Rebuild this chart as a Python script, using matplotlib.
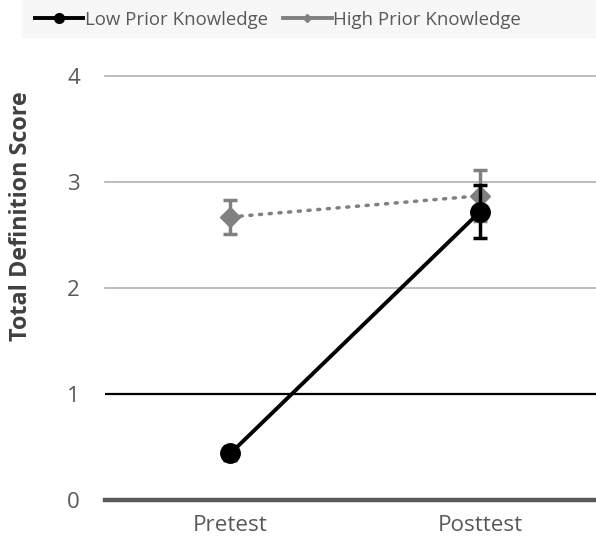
import matplotlib.pyplot as plt
from matplotlib.patches import Rectangle
from matplotlib.lines import Line2D

plt.rcParams['font.family'] = ['Open Sans', 'DejaVu Sans']

tests = ['Pretest', 'Posttest']
low_mean = [0.44, 2.72]
low_err = [0.06, 0.25]
high_mean = [2.67, 2.87]
high_err = [0.16, 0.24]
yticks = [0, 1, 2, 3, 4]

fig = plt.figure(figsize=(5.96, 5.44), dpi=100)
ax = fig.add_axes([105 / 596, 44 / 544, 491 / 596, 424 / 544])

x = [0, 1]
# grid lines
for v in yticks:
    if v == 0:
        ax.axhline(v, color='#595959', lw=3.2, zorder=1, clip_on=False)
    elif v == 1:
        ax.axhline(v, color='black', lw=1.6, zorder=1)
    else:
        ax.axhline(v, color='#b0b0b0', lw=1.2, zorder=1, clip_on=False)

ax.errorbar(x, high_mean, yerr=high_err, color='#808080', lw=2.5, ls=(0, (0.6, 2.2)),
            dash_capstyle='round', marker='D', ms=10, capsize=5, capthick=2.5,
            elinewidth=2.5, zorder=3)
ax.errorbar(x, low_mean, yerr=low_err, color='black', lw=2.8, marker='o', ms=14,
            capsize=5, capthick=2.5, elinewidth=2.5, zorder=4)

ax.set_xlim(-0.503, 1.465)
ax.set_ylim(0, 4)
ax.set_xticks(x)
ax.set_xticklabels(tests, fontsize=16.2, color='#595959')
ax.set_yticks(yticks)
ax.set_yticklabels([str(v) for v in yticks], fontsize=16, color='#595959')
ax.tick_params(length=0)
ax.tick_params(axis='x', pad=11)
ax.tick_params(axis='y', pad=18)
for s in ax.spines.values():
    s.set_visible(False)
fig.text(21 / 596, 1 - 216 / 544, 'Total Definition Score', rotation=90, fontsize=16.8,
         fontweight='bold', color='#404040', ha='center', va='center')

# legend band
fig.patches.append(Rectangle((22 / 596, 1 - 37 / 544), 1, 37 / 544, transform=fig.transFigure,
                             color='#f7f7f7', zorder=0))
handles = [Line2D([], [], color='black', lw=2.8, marker='o', ms=7),
           Line2D([], [], color='#808080', lw=2.8, marker='D', ms=4)]
fig.legend(handles, ['Low Prior Knowledge', 'High Prior Knowledge'], loc='center left',
           bbox_to_anchor=(35 / 596, 1 - 20 / 544), ncol=2, frameon=False, fontsize=13.4,
           handlelength=2.6, handletextpad=0.1, columnspacing=0.8, labelcolor='#595959',
           borderpad=0, borderaxespad=0)

fig.savefig('out.png', dpi=100)
